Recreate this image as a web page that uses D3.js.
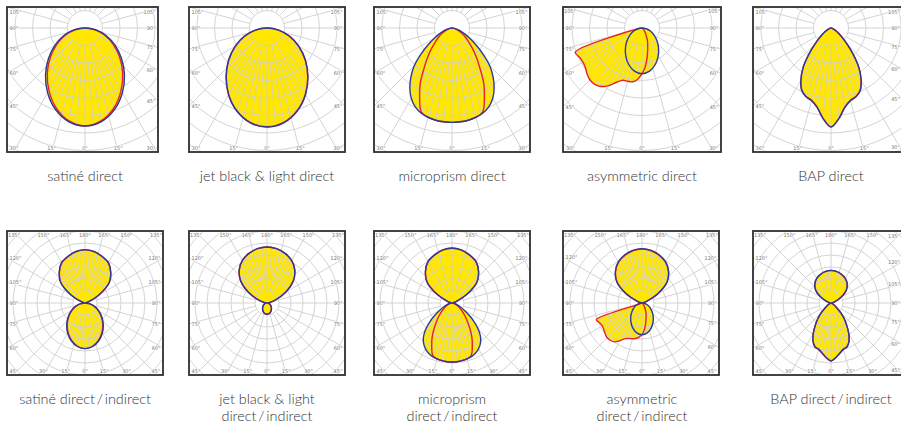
<!DOCTYPE html>
<meta charset="utf-8">
<script src="https://d3js.org/d3.v7.min.js"></script>
<style>
  body { margin: 0; background: #fff; }
  .caption { font-family: Lato, "Open Sans", sans-serif; font-size: 14.4px; font-weight: 300; fill: #333; }
  .tick { font-family: "DejaVu Sans", sans-serif; font-size: 5px; fill: #777; }
</style>
<div id="chart"></div>
<script>

// angles in degrees: lower half measured from nadir, upper half from zenith
var gamma5 = [0, 5, 10, 15, 20, 25, 30, 35, 40, 45, 50, 55, 60, 65, 70, 75, 80, 85, 90];
var gamma10 = [0, 10, 20, 30, 40, 50, 60, 70, 80, 90];
var gammaFan = [0, 5, 10, 15, 20, 25, 30, 35, 40, 45, 50, 55, 60, 65, 70, 72];

// angle labels on the frame
var ticksDirect = [0, 15, 30, 45, 60, 75, 90, 105];
var ticksBoth = [0, 15, 30, 45, 60, 75, 90, 105, 120, 135, 150, 165, 180];

var captionTop = ["satiné direct", "jet black & light direct", "microprism direct", "asymmetric direct", "BAP direct"];
var captionBottom = [
  ["satiné direct\u2009/\u2009indirect"],
  ["jet black & light", "direct\u2009/\u2009indirect"],
  ["microprism", "direct\u2009/\u2009indirect"],
  ["asymmetric", "direct\u2009/\u2009indirect"],
  ["BAP direct\u2009/\u2009indirect"]
];

// intensities in grid rings (C0 = blue plane, C90 = red plane)
var satineDirectC0  = [5.6, 5.43, 4.95, 4.27, 3.51, 2.73, 1.99, 1.30, 0.64, 0];
var satineDirectC90 = [5.6, 5.38, 4.85, 4.12, 3.35, 2.58, 1.86, 1.20, 0.58, 0];

var jetDirectC0  = [5.66, 5.50, 5.05, 4.40, 3.64, 2.87, 2.11, 1.38, 0.68, 0];
var jetDirectC90 = [5.64, 5.48, 5.03, 4.38, 3.62, 2.85, 2.09, 1.36, 0.67, 0];

var prismDirectC0  = [5.39, 5.38, 5.35, 5.28, 5.17, 4.97, 4.65, 4.2, 3.65, 3.05, 2.3, 1.65, 1.15, 0.8, 0.55, 0.35, 0.2, 0.08, 0];
var prismDirectC90 = [5.39, 5.38, 5.35, 5.28, 5.12, 4.38, 3.62, 2.77, 2.15, 1.65, 1.25, 0.95, 0.7, 0.48, 0.32, 0.2, 0.11, 0.05, 0];

var asymDirectC0 = [2.61, 2.50, 2.22, 1.85, 1.47, 1.11, 0.79, 0.51, 0.25, 0];
var asymDirectC90Left  = [2.61, 2.95, 3.12, 3.15, 3.18, 3.42, 3.8, 4.08, 4.2, 4.2, 4.1, 3.95, 3.9, 3.95, 4.06, 0];
var asymDirectC90Right = [2.61, 2.2, 1.7, 1.25, 0.95, 0.7, 0.45, 0.3, 0.2, 0.14, 0.08, 0.05, 0.03, 0.02, 0.01, 0, 0, 0, 0];

var bapDirectC0  = [5.66, 5.2, 4.6, 4.3, 4.18, 3.95, 3.45, 2.8, 2.0, 1.3, 0.85, 0.55, 0.35, 0.22, 0.13, 0.07, 0.03, 0.01, 0];
var bapDirectC90 = [5.64, 5.18, 4.58, 4.28, 4.16, 3.93, 3.43, 2.78, 1.98, 1.29, 0.84, 0.54, 0.34, 0.21, 0.12, 0.06, 0.03, 0.01, 0];

var satineBothDownC0  = [3.8, 3.68, 3.35, 2.89, 2.37, 1.84, 1.34, 0.87, 0.43, 0];
var satineBothDownC90 = [3.8, 3.66, 3.3, 2.82, 2.3, 1.78, 1.29, 0.83, 0.41, 0];
var satineBothUpC0    = [4.45, 4.36, 4.15, 3.9, 3.35, 2.65, 1.35, 0.38, 0.1, 0];
var satineBothUpC90   = [4.43, 4.34, 4.12, 3.87, 3.32, 2.62, 1.33, 0.37, 0.1, 0];

var jetBothDownC0  = [0.94, 0.91, 0.83, 0.71, 0.58, 0.45, 0.33, 0.22, 0.1, 0];
var jetBothDownC90 = [0.93, 0.9, 0.82, 0.7, 0.57, 0.44, 0.32, 0.21, 0.1, 0];
var jetBothUpC0    = [4.67, 4.6, 4.4, 4.1, 3.6, 2.85, 1.75, 0.75, 0.2, 0];
var jetBothUpC90   = [4.67, 4.6, 4.4, 4.1, 3.6, 2.88, 1.85, 0.85, 0.25, 0];

var prismBothDownC0  = [4.92, 4.91, 4.88, 4.82, 4.75, 4.62, 4.42, 4.12, 3.7, 3.1, 2.4, 1.7, 1.15, 0.75, 0.5, 0.32, 0.18, 0.07, 0];
var prismBothDownC90 = [4.92, 4.91, 4.88, 4.82, 4.67, 4.0, 3.31, 2.6, 2.0, 1.53, 1.15, 0.87, 0.64, 0.44, 0.29, 0.18, 0.1, 0.05, 0];
var prismBothUpC0    = [4.58, 4.49, 4.27, 4.0, 3.45, 2.73, 1.4, 0.4, 0.1, 0];
var prismBothUpC90   = [4.56, 4.47, 4.25, 3.98, 3.43, 2.71, 1.39, 0.4, 0.1, 0];

var asymBothDownC0 = [2.64, 2.53, 2.23, 1.84, 1.45, 1.08, 0.77, 0.49, 0.24, 0];
var asymBothDownC90Left  = [2.64, 2.85, 3.0, 3.08, 3.15, 3.28, 3.6, 3.95, 4.08, 4.1, 4.0, 3.88, 3.82, 3.9, 4.05, 0];
var asymBothDownC90Right = [2.64, 2.25, 1.75, 1.3, 1.0, 0.72, 0.48, 0.32, 0.2, 0.14, 0.08, 0.05, 0.03, 0.02, 0.01, 0, 0, 0, 0];
var asymBothUpC0  = [4.53, 4.45, 4.25, 3.95, 3.45, 2.75, 1.5, 0.45, 0.1, 0];
var asymBothUpC90 = [4.5, 4.42, 4.22, 3.92, 3.42, 2.72, 1.48, 0.44, 0.1, 0];

var bapBothDownC0  = [4.83, 4.58, 4.25, 4.0, 3.9, 3.55, 2.98, 2.3, 1.72, 1.15, 0.65, 0.38, 0.22, 0.13, 0.07, 0.04, 0.02, 0.01, 0];
var bapBothDownC90 = [4.81, 4.56, 4.23, 3.98, 3.88, 3.53, 2.96, 2.28, 1.7, 1.14, 0.64, 0.37, 0.22, 0.13, 0.07, 0.04, 0.02, 0.01, 0];
var bapBothUpC0    = [2.72, 2.67, 2.55, 2.38, 2.1, 1.68, 1.0, 0.35, 0.08, 0];
var bapBothUpC90   = [2.71, 2.66, 2.54, 2.37, 2.09, 1.67, 0.99, 0.35, 0.08, 0];

// colours
var yellow = "#ffe700", blue = "#2b3a9a", red = "#e4222b", gridCol = "#cfcfcf";

// layout of the two rows (last frame runs past the page edge)
var rows = [
  {y0: 7, y1: 152, cy: 28, unit: 17.5, ticks: ticksDirect,
   boxes: [[7, 158], [189, 345], [374, 530], [563, 721], [753, 902.5]]},
  {y0: 231, y1: 375, cy: 303, unit: 12, ticks: ticksBoth,
   boxes: [[7, 163], [189, 345], [374, 530], [563, 719], [753, 902.5]]}
];
var centers = [85, 267, 452, 642, 831];

// helpers building one closed plane curve
function side(a, v) { return {a: a, v: v}; }
function plane(downRight, downLeft, upA, upRight, upLeft) {
  var pts = [], i;
  downRight.a.forEach(function(a, k) { pts.push({t: a, v: downRight.v[k]}); });
  if (upA) {
    for (i = upA.length - 1; i >= 0; i--) pts.push({t: 180 - upA[i], v: upRight[i]});
    for (i = 1; i < upA.length; i++) pts.push({t: -(180 - upA[i]), v: upLeft[i]});
  } else {
    pts.push({t: 180, v: 0});
  }
  for (i = downLeft.a.length - 1; i >= 1; i--) pts.push({t: -downLeft.a[i], v: downLeft.v[i]});
  // keep a single point at the centre for every run of zeros
  return pts.filter(function(p, k) {
    return !(p.v === 0 && pts[(k + pts.length - 1) % pts.length].v === 0);
  });
}
function symDirect(a, v) { return plane(side(a, v), side(a, v)); }
function symBoth(a, down, up) { return plane(side(a, down), side(a, down), gamma10, up, up); }

var panels = [
  {row: 0, col: 0, caption: [captionTop[0]],
   red: symDirect(gamma10, satineDirectC90), blue: symDirect(gamma10, satineDirectC0)},
  {row: 0, col: 1, caption: [captionTop[1]],
   red: symDirect(gamma10, jetDirectC90), blue: symDirect(gamma10, jetDirectC0)},
  {row: 0, col: 2, caption: [captionTop[2]],
   red: symDirect(gamma5, prismDirectC90), blue: symDirect(gamma5, prismDirectC0)},
  {row: 0, col: 3, caption: [captionTop[3]],
   red: plane(side(gamma5, asymDirectC90Right), side(gammaFan, asymDirectC90Left)),
   blue: symDirect(gamma10, asymDirectC0)},
  {row: 0, col: 4, caption: [captionTop[4]],
   red: symDirect(gamma5, bapDirectC90), blue: symDirect(gamma5, bapDirectC0)},

  {row: 1, col: 0, caption: captionBottom[0],
   red: symBoth(gamma10, satineBothDownC90, satineBothUpC90), blue: symBoth(gamma10, satineBothDownC0, satineBothUpC0)},
  {row: 1, col: 1, caption: captionBottom[1],
   red: symBoth(gamma10, jetBothDownC90, jetBothUpC90), blue: symBoth(gamma10, jetBothDownC0, jetBothUpC0)},
  {row: 1, col: 2, caption: captionBottom[2],
   red: symBoth(gamma5, prismBothDownC90, prismBothUpC90), blue: symBoth(gamma5, prismBothDownC0, prismBothUpC0)},
  {row: 1, col: 3, caption: captionBottom[3],
   red: plane(side(gamma5, asymBothDownC90Right), side(gammaFan, asymBothDownC90Left), gamma10, asymBothUpC90, asymBothUpC90),
   blue: symBoth(gamma10, asymBothDownC0, asymBothUpC0)},
  {row: 1, col: 4, caption: captionBottom[4],
   red: symBoth(gamma5, bapBothDownC90, bapBothUpC90), blue: symBoth(gamma5, bapBothDownC0, bapBothUpC0)}
];

var svg = d3.select("#chart").append("svg")
    .attr("width", 901)
    .attr("height", 428);
var defs = svg.append("defs");

function hit(theta, L, R, T, B) {
  var a = theta * Math.PI / 180, dx = Math.sin(a), dy = Math.cos(a);
  var best = Infinity, where = null, t;
  if (dx > 1e-9) { t = R / dx; if (t < best) { best = t; where = "right"; } }
  if (dx < -1e-9) { t = L / dx; if (t < best) { best = t; where = "left"; } }
  if (dy > 1e-9) { t = B / dy; if (t < best) { best = t; where = "bottom"; } }
  if (dy < -1e-9) { t = T / dy; if (t < best) { best = t; where = "top"; } }
  return {x: best * dx, y: best * dy, side: where};
}

function spoke(r0) {
  return function(sel) {
    sel.attr("x1", function(a) { return r0 * Math.sin(a * Math.PI / 180); })
       .attr("y1", function(a) { return r0 * Math.cos(a * Math.PI / 180); })
       .attr("x2", function(a) { return 400 * Math.sin(a * Math.PI / 180); })
       .attr("y2", function(a) { return 400 * Math.cos(a * Math.PI / 180); });
  };
}

panels.forEach(function(p, i) {
  var row = rows[p.row], box = row.boxes[p.col];
  var cx = centers[p.col], cy = row.cy;
  var L = box[0] - cx, R = box[1] - cx, T = row.y0 - cy, B = row.y1 - cy;

  var r = d3.scaleLinear().domain([0, 1]).range([0, row.unit]);
  var line = d3.lineRadial()
      .angle(function(d) { return Math.PI - d.t * Math.PI / 180; })
      .radius(function(d) { return r(d.v); })
      .curve(d3.curveCatmullRomClosed.alpha(0.5));

  defs.append("clipPath").attr("id", "box" + i)
    .append("rect").attr("x", L).attr("y", T).attr("width", R - L).attr("height", B - T);
  var fillClip = defs.append("clipPath").attr("id", "fill" + i);
  fillClip.append("path").attr("d", line(p.red));
  fillClip.append("path").attr("d", line(p.blue));

  var g = svg.append("g").attr("transform", "translate(" + cx + "," + cy + ")");
  var plot = g.append("g").attr("clip-path", "url(#box" + i + ")");

  // light distribution area
  plot.append("path").attr("d", line(p.red)).attr("fill", yellow);
  plot.append("path").attr("d", line(p.blue)).attr("fill", yellow);

  // grid: rings
  plot.append("g").selectAll("circle")
    .data(d3.range(1, 10))
    .enter().append("circle")
      .attr("r", function(k) { return r(k); })
      .attr("fill", "none")
      .attr("stroke", gridCol)
      .attr("stroke-width", 0.9);

  // finer 5 degree spokes, only inside the lit area
  plot.append("g").attr("clip-path", "url(#fill" + i + ")")
    .selectAll("line")
    .data(d3.range(0, 360, 5).filter(function(a) { return a % 15 !== 0; }))
    .enter().append("line")
      .call(spoke(r(2)))
      .attr("stroke", gridCol)
      .attr("stroke-width", 0.8);

  // 15 degree spokes
  plot.append("g").selectAll("line")
    .data(d3.range(0, 360, 15))
    .enter().append("line")
      .call(spoke(r(1)))
      .attr("stroke", gridCol)
      .attr("stroke-width", 0.9);

  // curves
  plot.append("path").attr("d", line(p.red))
    .attr("fill", "none").attr("stroke", red).attr("stroke-width", 1.4);
  plot.append("path").attr("d", line(p.blue))
    .attr("fill", "none").attr("stroke", blue).attr("stroke-width", 1.4);

  // angle labels at the frame
  var ticks = [];
  row.ticks.forEach(function(a) {
    ticks.push(a);
    if (a !== 0 && a !== 180) ticks.push(-a);
  });
  ticks.forEach(function(a) {
    var h = hit(a, L, R, T, B), x, y, anchor;
    if (h.side === "bottom") { x = Math.max(L + 7, Math.min(R - 7, h.x)); y = B - 2.5; anchor = "middle"; }
    else if (h.side === "top") { x = Math.max(L + 7, Math.min(R - 7, h.x)); y = T + 6; anchor = "middle"; }
    else if (h.side === "left") { x = L + 2.5; y = Math.max(T + 5, Math.min(B - 5, h.y)) + 1.8; anchor = "start"; }
    else { x = R - 2.5; y = Math.max(T + 5, Math.min(B - 5, h.y)) + 1.8; anchor = "end"; }
    g.append("text").attr("class", "tick")
      .attr("x", x).attr("y", y)
      .attr("text-anchor", anchor)
      .attr("stroke", "#fff").attr("stroke-width", 1.2).attr("paint-order", "stroke")
      .text(Math.abs(a) + "°");
  });

  // frame
  g.append("rect")
    .attr("x", L).attr("y", T)
    .attr("width", R - L).attr("height", B - T)
    .attr("fill", "none")
    .attr("stroke", "#2f2f2f")
    .attr("stroke-width", 1.8);

  // caption
  var cap = svg.append("text").attr("class", "caption")
    .attr("text-anchor", "middle")
    .attr("x", cx)
    .attr("y", p.row === 0 ? 181 : 404);
  p.caption.forEach(function(s, k) {
    cap.append("tspan").attr("x", cx).attr("dy", k === 0 ? 0 : 17).text(s);
  });
});

</script>
